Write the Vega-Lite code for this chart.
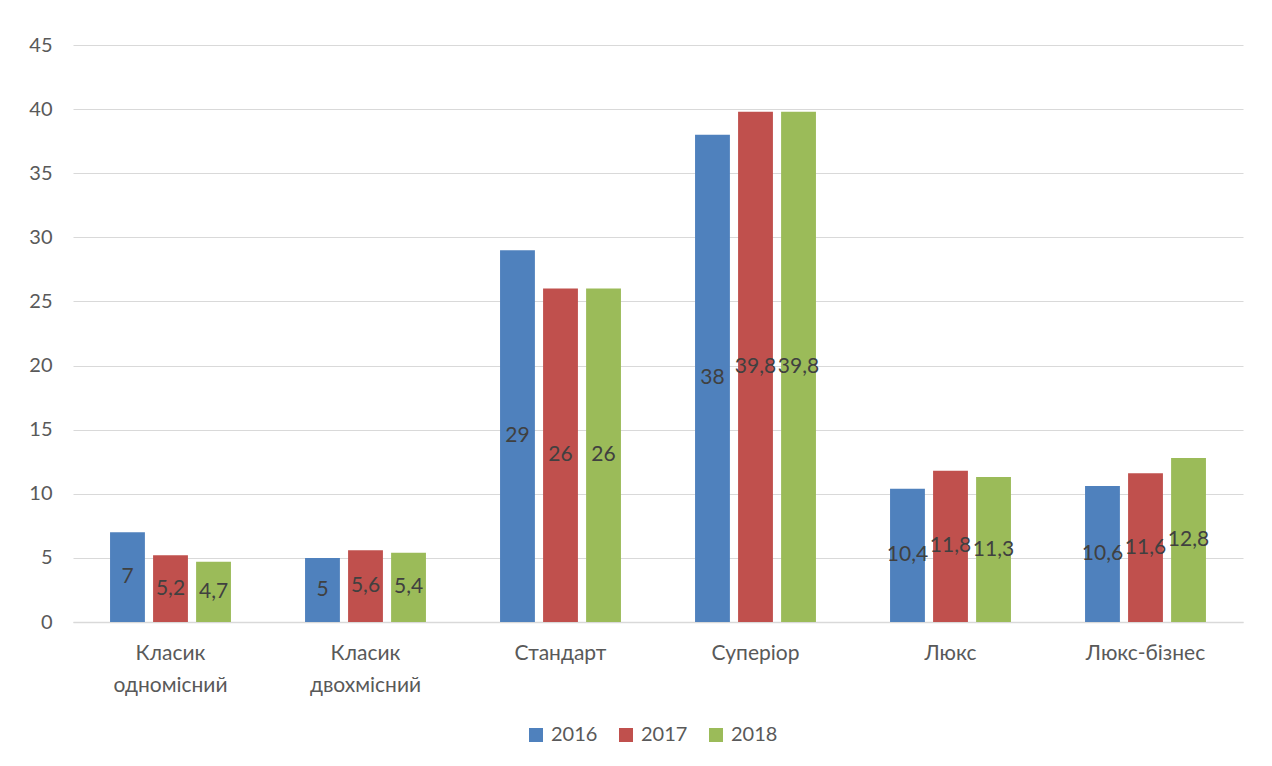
{
  "$schema": "https://vega.github.io/schema/vega-lite/v6.json",
  "width": 1170,
  "height": 577,
  "autosize": {"type": "none"},
  "padding": {"left": 73, "top": 45, "right": 29, "bottom": 144},
  "background": "white",
  "config": {
    "view": {"stroke": null},
    "font": "Lato",
    "locale": {"number": {"decimal": ",", "thousands": " ", "grouping": [3], "currency": ["", ""]}}
  },
  "data": {
    "values": [
      {"category": "Класик одномісний", "year": "2016", "value": 7},
      {"category": "Класик одномісний", "year": "2017", "value": 5.2},
      {"category": "Класик одномісний", "year": "2018", "value": 4.7},
      {"category": "Класик двохмісний", "year": "2016", "value": 5},
      {"category": "Класик двохмісний", "year": "2017", "value": 5.6},
      {"category": "Класик двохмісний", "year": "2018", "value": 5.4},
      {"category": "Стандарт", "year": "2016", "value": 29},
      {"category": "Стандарт", "year": "2017", "value": 26},
      {"category": "Стандарт", "year": "2018", "value": 26},
      {"category": "Суперіор", "year": "2016", "value": 38},
      {"category": "Суперіор", "year": "2017", "value": 39.8},
      {"category": "Суперіор", "year": "2018", "value": 39.8},
      {"category": "Люкс", "year": "2016", "value": 10.4},
      {"category": "Люкс", "year": "2017", "value": 11.8},
      {"category": "Люкс", "year": "2018", "value": 11.3},
      {"category": "Люкс-бізнес", "year": "2016", "value": 10.6},
      {"category": "Люкс-бізнес", "year": "2017", "value": 11.6},
      {"category": "Люкс-бізнес", "year": "2018", "value": 12.8}
    ]
  },
  "encoding": {
    "x": {
      "field": "category",
      "type": "nominal",
      "sort": ["Класик одномісний", "Класик двохмісний", "Стандарт", "Суперіор", "Люкс", "Люкс-бізнес"],
      "scale": {"paddingInner": 0.38, "paddingOuter": 0.19},
      "axis": {
        "title": null,
        "labelAngle": 0,
        "labelExpr": "split(datum.label, ' ')",
        "labelFontSize": 21,
        "labelColor": "#595959",
        "labelPadding": 20,
        "labelLineHeight": 32,
        "ticks": false,
        "domainColor": "#D9D9D9",
        "domainWidth": 1.5
      }
    },
    "xOffset": {
      "field": "year",
      "type": "nominal",
      "scale": {"paddingInner": 0.19, "paddingOuter": 0}
    }
  },
  "layer": [
    {
      "mark": {"type": "bar"},
      "encoding": {
        "y": {
          "field": "value",
          "type": "quantitative",
          "scale": {"domain": [0, 45], "nice": false},
          "axis": {
            "title": null,
            "values": [0, 5, 10, 15, 20, 25, 30, 35, 40, 45],
            "domain": false,
            "ticks": false,
            "gridColor": "#D9D9D9",
            "gridWidth": 1.2,
            "labelFontSize": 20,
            "labelColor": "#595959",
            "labelPadding": 21
          }
        },
        "color": {
          "field": "year",
          "type": "nominal",
          "scale": {"domain": ["2016", "2017", "2018"], "range": ["#4F81BD", "#C0504D", "#9BBB59"]},
          "legend": {
            "title": null,
            "orient": "none",
            "direction": "horizontal",
            "legendX": 453,
            "legendY": 680,
            "symbolType": "square",
            "symbolSize": 196,
            "symbolStrokeWidth": 0,
            "labelFontSize": 20,
            "labelColor": "#595959",
            "labelOffset": 5,
            "columnPadding": 18
          }
        }
      }
    },
    {
      "mark": {"type": "text", "fontSize": 21, "color": "#404040", "baseline": "middle", "align": "center"},
      "encoding": {
        "y": {
          "field": "value",
          "type": "quantitative",
          "scale": {"domain": [0, 90], "nice": false},
          "axis": null
        },
        "text": {"field": "value", "type": "quantitative", "format": "~g"}
      }
    }
  ],
  "resolve": {"scale": {"y": "independent"}}
}
